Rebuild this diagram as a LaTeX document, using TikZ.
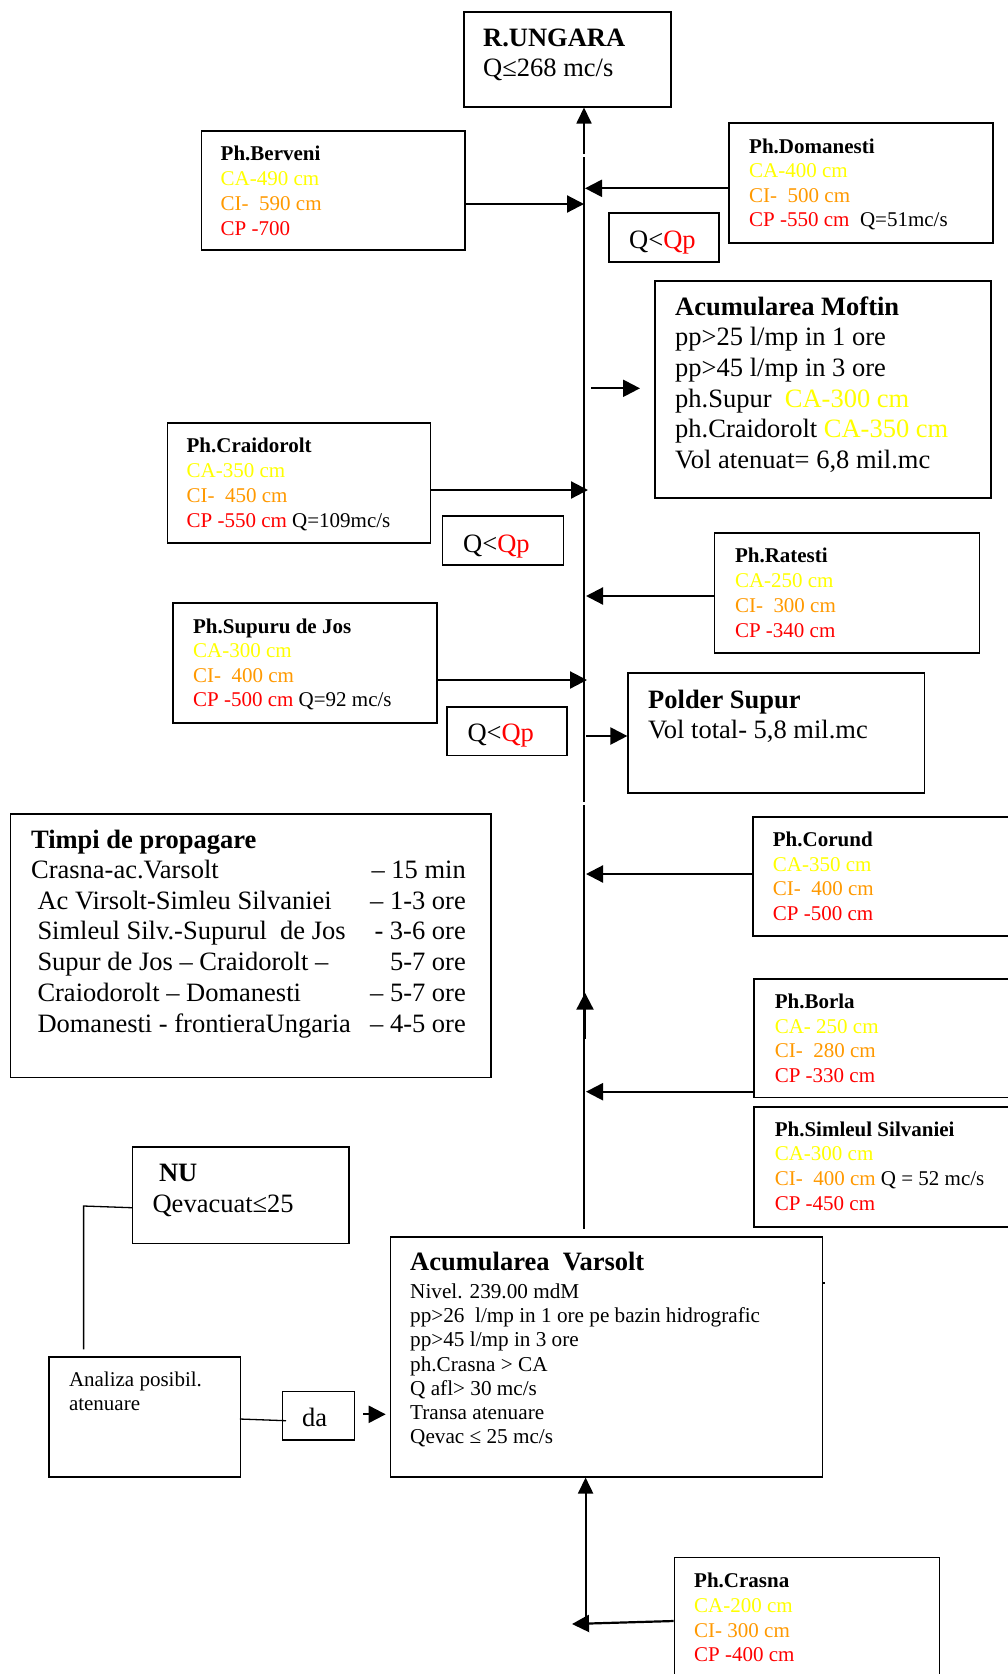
\documentclass[tikz,border=0pt]{standalone}
\usepackage{fontspec}
\setmainfont{Liberation Serif}
\usetikzlibrary{arrows.meta}
\definecolor{yel}{HTML}{FFFF00}
\definecolor{org}{HTML}{FF9900}
\definecolor{rd}{HTML}{FF0000}
\newcommand\fl{\rule{0pt}{0.75em}}
\newcommand\Ya[1]{\textcolor{yel}{#1}}
\newcommand\Oa[1]{\textcolor{org}{#1}}
\newcommand\Ra[1]{\textcolor{rd}{#1}}
\begin{document}
\begin{tikzpicture}[x=1pt,y=-1pt,
  box/.style={draw,line width=1.5pt,inner sep=0pt,anchor=north west},
  big/.style={anchor=north west,inner sep=0pt,align=left,font=\fontsize{26.5}{30.6}\selectfont},
  sm/.style={anchor=north west,inner sep=0pt,align=left,font=\fontsize{21}{24.7}\selectfont},
  arr/.style={line width=2.2pt,-{Triangle[length=17pt 0 0,width=17pt 0 0]}},
  uparr/.style={line width=1.8pt,-{Triangle[length=16pt 0 0,width=15pt 0 0]}},
  ln/.style={line width=1.3pt}]
\useasboundingbox (0,0) rectangle (1008,1674);
\fill[white] (0,0) rectangle (1008,1674);
\clip (0,0) rectangle (1008,1674);

% boxes
\node[box,minimum width=207pt,minimum height=95pt] (ungara) at (463,11) {};
\node[box,minimum width=263.5pt,minimum height=119pt] (berveni) at (200.5,130) {};
\node[box,minimum width=264pt,minimum height=120pt] (domanesti) at (728,122) {};
\node[box,minimum width=110pt,minimum height=49pt] (qp1) at (608,212) {};
\node[box,minimum width=336pt,minimum height=217pt] (moftin) at (654,280) {};
\node[box,minimum width=263pt,minimum height=120pt] (craidorolt) at (166.5,422) {};
\node[box,minimum width=121pt,minimum height=48.7pt] (qp2) at (441.6,515.3) {};
\node[box,minimum width=265pt,minimum height=120pt] (ratesti) at (713.5,532) {};
\node[box,minimum width=264pt,minimum height=120pt] (supuru) at (172.3,602) {};
\node[box,minimum width=120pt,minimum height=48.5pt] (qp3) at (446,706) {};
\node[box,minimum width=296.4pt,minimum height=120pt] (polder) at (627.4,672) {};
\node[box,minimum width=480.4pt,minimum height=263.4pt] (timpi) at (9.6,813.3) {};
\node[box,minimum width=300pt,minimum height=119pt] (corund) at (752,816) {};
\node[box,minimum width=300pt,minimum height=118.3pt] (borla) at (753.4,978.3) {};
\node[box,minimum width=300pt,minimum height=120pt] (simleul) at (753.4,1106) {};
\node[box,minimum width=216.6pt,minimum height=96.7pt] (nu) at (131.8,1146) {};
\node[box,minimum width=191.6pt,minimum height=120pt] (analiza) at (48.2,1356) {};
\node[box,minimum width=72pt,minimum height=48.6pt] (da) at (281.6,1390.7) {};
\node[box,minimum width=432pt,minimum height=240pt] (varsolt) at (389.6,1236) {};
\node[box,minimum width=265pt,minimum height=150pt] (crasna) at (673.7,1556.7) {};

% texts
\node[big,font=\fontsize{26.5}{30}\selectfont] (ungara-t) at (483,26.3) {\fl\textbf{R.UNGARA}\\Q≤268 mc/s};
\node[sm] (berveni-t) at (220.5,145) {\fl\textbf{Ph.Berveni}\\\Ya{CA-490 cm}\\\Oa{CI-\ \ 590 cm}\\\Ra{CP -700}};
\node[sm,font=\fontsize{21}{24.5}\selectfont] (domanesti-t) at (749,137.5) {\fl\textbf{Ph.Domanesti}\\\Ya{CA-400 cm}\\\Oa{CI-\ \ 500 cm}\\\Ra{CP -550 cm}\ \ Q=51mc/s};
\node[big] (qp1-t) at (629,228.5) {\fl Q<\Ra{Qp}};
\node[big] (moftin-t) at (675,295.2) {\fl\textbf{Acumularea Moftin}\\pp>25 l/mp in 1 ore\\pp>45 l/mp in 3 ore\\ph.Supur\ \ \Ya{CA-300 cm}\\ph.Craidorolt \Ya{CA-350 cm}\\Vol atenuat= 6,8 mil.mc};
\node[sm] (craidorolt-t) at (186.4,437) {\fl\textbf{Ph.Craidorolt}\\\Ya{CA-350 cm}\\\Oa{CI-\ \ 450 cm}\\\Ra{CP -550 cm} Q=109mc/s};
\node[big] (qp2-t) at (463,532.5) {\fl Q<\Ra{Qp}};
\node[sm] (ratesti-t) at (734.8,547) {\fl\textbf{Ph.Ratesti}\\\Ya{CA-250 cm}\\\Oa{CI-\ \ 300 cm}\\\Ra{CP -340 cm}};
\node[sm,font=\fontsize{21}{24.5}\selectfont] (supuru-t) at (192.9,617.5) {\fl\textbf{Ph.Supuru de Jos}\\\Ya{CA-300 cm}\\\Oa{CI-\ \ 400 cm}\\\Ra{CP -500 cm} Q=92 mc/s};
\node[big] (qp3-t) at (467.3,721.8) {\fl Q<\Ra{Qp}};
\node[big,font=\fontsize{26.5}{30}\selectfont] (polder-t) at (648,688.5) {\fl\textbf{Polder Supur}\\Vol total- 5,8 mil.mc};
\node[big,font=\fontsize{26.5}{30}\selectfont] (timpi-t1) at (30.9,828.5) {\fl\textbf{Timpi de propagare}\\Crasna-ac.Varsolt};
\node[big,font=\fontsize{26.5}{30.7}\selectfont] (timpi-t2) at (37.3,889.2) {\fl Ac Virsolt-Simleu Silvaniei\\Simleul Silv.-Supurul\ \ de Jos\\Supur de Jos – Craidorolt –\\Craiodorolt – Domanesti\\Domanesti - frontieraUngaria};
\node[big,font=\fontsize{26.5}{30.7}\selectfont,anchor=north east,align=right] (timpi-t3) at (466,858.5) {\fl – 15 min\\– 1-3 ore\\- 3-6 ore\\5-7 ore\\– 5-7 ore\\– 4-5 ore};
\node[sm,font=\fontsize{21}{24.5}\selectfont] (corund-t) at (772.7,831) {\fl\textbf{Ph.Corund}\\\Ya{CA-350 cm}\\\Oa{CI-\ \ 400 cm}\\\Ra{CP -500 cm}};
\node[sm] (borla-t) at (774.6,992.6) {\fl\textbf{Ph.Borla}\\\Ya{CA- 250 cm}\\\Oa{CI-\ \ 280 cm}\\\Ra{CP -330 cm}};
\node[sm] (simleul-t) at (774.6,1120.3) {\fl\textbf{Ph.Simleul Silvaniei}\\\Ya{CA-300 cm}\\\Oa{CI-\ \ 400 cm} Q = 52 mc/s\\\Ra{CP -450 cm}};
\node[big] (nu-t1) at (158.8,1161.8) {\fl\textbf{NU}};
\node[big] (nu-t2) at (152.4,1192.8) {\fl Qevacuat≤25};
\node[sm,font=\fontsize{21}{23.3}\selectfont] (analiza-t) at (68.8,1371) {\fl Analiza posibil.\\atenuare};
\node[big] (da-t) at (302,1406.8) {\fl da};
\node[big] (varsolt-t1) at (410,1250.8) {\fl\textbf{Acumularea\ \ Varsolt}};
\node[sm,font=\fontsize{21.2}{24.2}\selectfont] (varsolt-t2) at (410,1282.4) {\fl Nivel. 239.00 mdM\\pp>26\ \ l/mp in 1 ore pe bazin hidrografic\\pp>45 l/mp in 3 ore\\ph.Crasna > CA\\Q afl> 30 mc/s\\Transa atenuare\\Qevac ≤ 25 mc/s};
\node[sm,font=\fontsize{21}{24.8}\selectfont] (crasna-t) at (694,1571.6) {\fl\textbf{Ph.Crasna}\\\Ya{CA-200 cm}\\\Oa{CI- 300 cm}\\\Ra{CP -400 cm}};

% main trunk
\coordinate (m0) at (584,154);
\coordinate (ltop) at (584,157);
\coordinate (lmid1) at (584,801.7);
\coordinate (lmid2) at (584,805);
\coordinate (lbot) at (584,1229.3);
\draw[uparr] (m0) -- (m0 |- ungara.south);
\draw[ln] (ltop) -- (lmid1);
\draw[ln] (lmid2) -- (lbot);

% junctions
\coordinate (jB) at (584,204);
\coordinate (jD) at (585,188.3);
\coordinate (mA) at (591,388.3);
\coordinate (mB) at (640,388.3);
\coordinate (jC) at (588,490);
\coordinate (jR) at (586,596);
\coordinate (jS) at (587,680);
\coordinate (pA) at (586,736);
\coordinate (jCo) at (586,874);
\coordinate (jBo) at (586,1091.7);
\coordinate (u1) at (585,1039.3);
\coordinate (u2) at (585,992.7);

\draw[arr] (berveni.east |- jB) -- (jB);
\draw[arr] (domanesti.west |- jD) -- (jD);
\draw[arr] (mA) -- (mB);
\draw[arr] (craidorolt.east |- jC) -- (jC);
\draw[arr] (ratesti.west |- jR) -- (jR);
\draw[arr] (supuru.east |- jS) -- (jS);
\draw[arr] (pA) -- (polder.west |- pA);
\draw[arr] (corund.west |- jCo) -- (jCo);
\draw[arr] (borla.west |- jBo) -- (jBo);
\draw[arr] (u1) -- (u2);

% lower left
\coordinate (n1) at (131.8,1207.7);
\coordinate (n2) at (83.6,1206);
\coordinate (n3) at (83.6,1349.3);
\draw[ln] (n1) -- (n2) -- (n3);
\coordinate (aE) at (239.8,1419);
\coordinate (dW) at (286,1420.7);
\draw[ln] (aE) -- (dW);
\coordinate (dA) at (363,1414.3);
\coordinate (vA) at (385.7,1414.3);
\draw[arr] (dA) -- (vA);

% Crasna
\coordinate (cA) at (673.7,1621);
\coordinate (cB) at (572,1624);
\coordinate (cV) at (585.6,1623.3);
\draw[arr] (cA) -- (cB);
\draw[uparr] (cV) -- (cV |- varsolt.south);

% small mark
\fill (823,1281.7) rectangle (825,1283.7);
\end{tikzpicture}
\end{document}
